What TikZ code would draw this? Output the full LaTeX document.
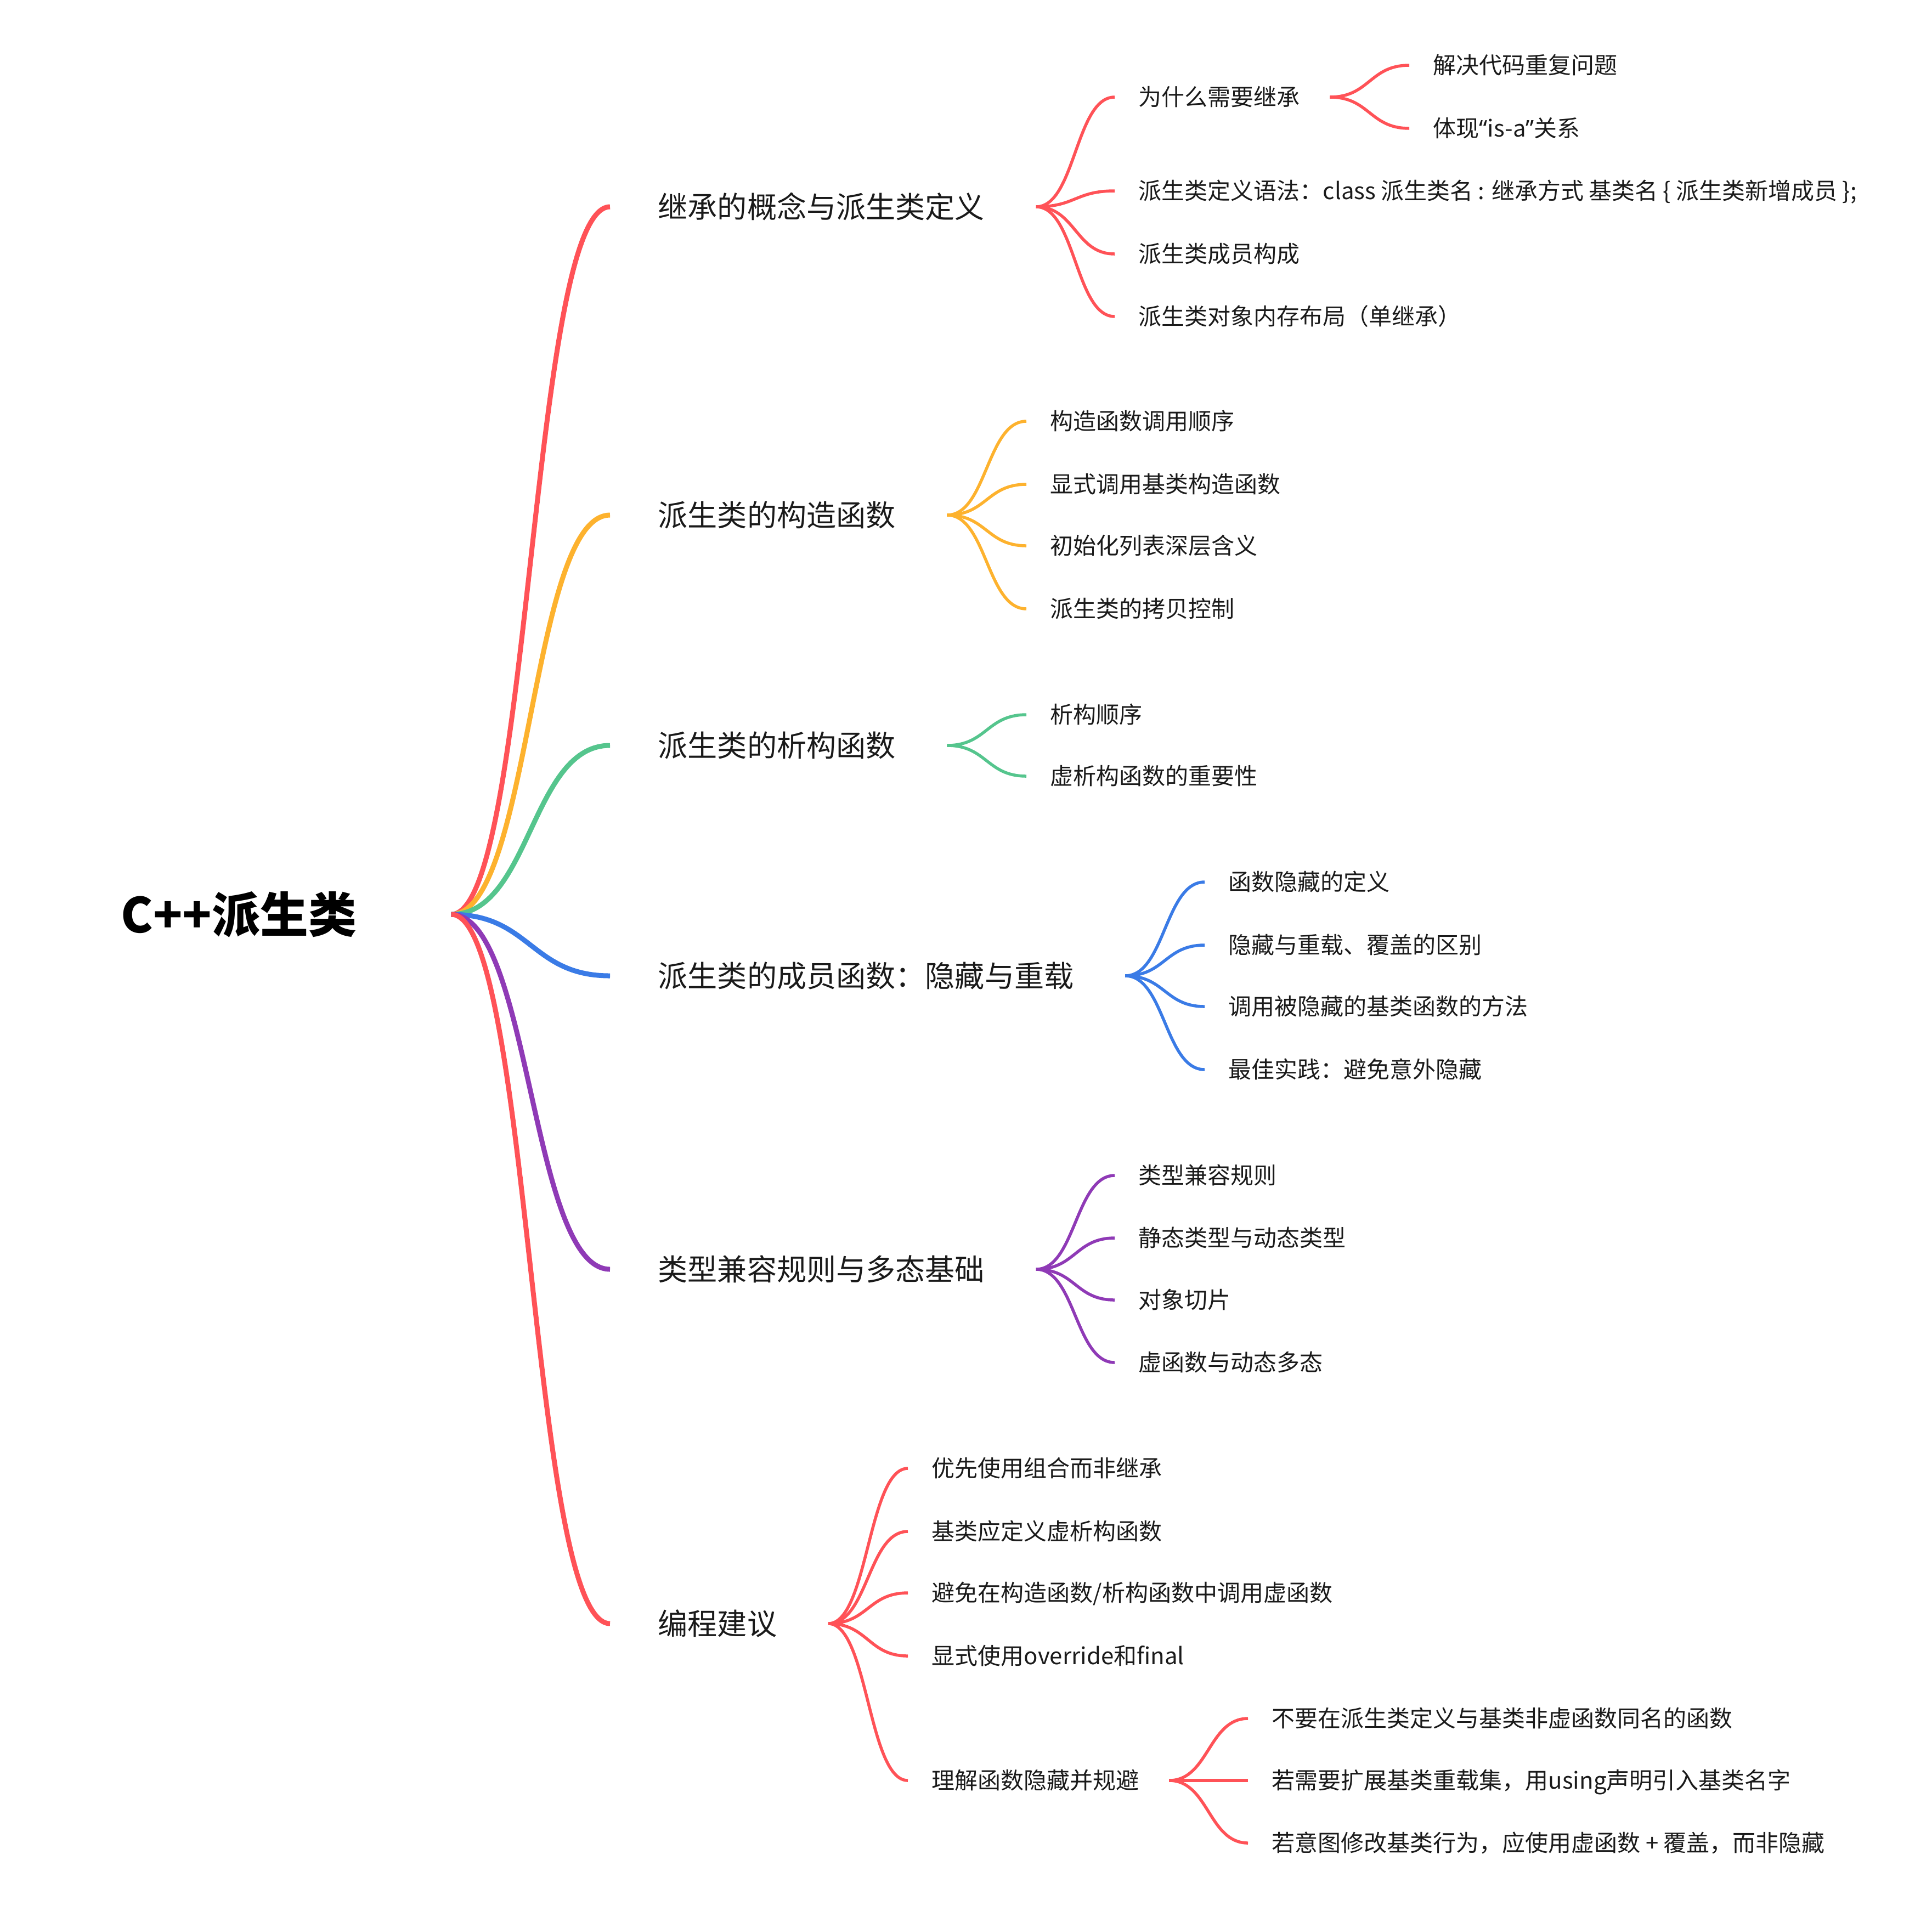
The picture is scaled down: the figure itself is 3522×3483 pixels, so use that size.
\documentclass[tikz,border=0pt]{standalone}
\usepackage{fontspec}
\setmainfont{Noto Sans CJK SC}
\newfontfamily\quotefont{Noto Sans}
\usepackage{tikz}
\usetikzlibrary{positioning, calc}
\definecolor{ink}{HTML}{1a1a1a}
\definecolor{brRed}{HTML}{FF5257}
\definecolor{brOrange}{HTML}{FDB22E}
\definecolor{brGreen}{HTML}{55C58D}
\definecolor{brBlue}{HTML}{3A7BE6}
\definecolor{brPurple}{HTML}{8F3AB6}
% twig: from, to, colour, width, gap after parent, gap before child
\newcommand{\twig}[6]{\draw[#3, line width=#4] let \p1=($(#1.east)+(#5,0)$), \p2=($(#2.west)+(-#6,0)$) in (\p1) .. controls (\x1*0.5+\x2*0.5,\y1) and (\x1*0.5+\x2*0.5,\y2) .. (\p2);}

\begin{document}
\begin{tikzpicture}[x=0.1mm, y=-0.1mm,
  root/.style={anchor=west, inner sep=0pt, text=black, font=\fontsize{25pt}{30pt}\selectfont\bfseries, text height=22pt, text depth=3pt},
  topic/.style={anchor=west, inner sep=0pt, text=ink, font=\fontsize{15.4pt}{18pt}\selectfont, text height=13.55pt, text depth=1.85pt},
  leaf/.style={anchor=west, inner sep=0pt, text=ink, font=\fontsize{11.95pt}{14pt}\selectfont, text height=10.5pt, text depth=1.45pt}]
\useasboundingbox (0,0) rectangle (3522,3483);
\node[root] (cpp) at (220,1667) {C++派生类};
% main branches
\node[topic] (concept) at (1199,377) {继承的概念与派生类定义};
\node[topic] (ctor) at (1199,939) {派生类的构造函数};
\node[topic] (dtor) at (1199,1359) {派生类的析构函数};
\node[topic] (member) at (1199,1779) {派生类的成员函数：隐藏与重载};
\node[topic] (compat) at (1199,2314) {类型兼容规则与多态基础};
\node[topic] (advice) at (1199,2960) {编程建议};
% concept
\node[leaf] (why) at (2075,177) {为什么需要继承};
\node[leaf] (dup) at (2612,119) {解决代码重复问题};
\node[leaf] (isa) at (2612,234) {体现{\quotefont “}is-a{\quotefont ”}关系};
\node[leaf] (syntax) at (2075,348) {派生类定义语法：class 派生类名 : 继承方式 基类名 \{ 派生类新增成员 \};};
\node[leaf] (parts) at (2075,463) {派生类成员构成};
\node[leaf] (layout) at (2075,577) {派生类对象内存布局（单继承）};
% ctor
\node[leaf] (order) at (1914,768) {构造函数调用顺序};
\node[leaf] (callbase) at (1914,883) {显式调用基类构造函数};
\node[leaf] (initlist) at (1914,995) {初始化列表深层含义};
\node[leaf] (copyctl) at (1914,1110) {派生类的拷贝控制};
% dtor
\node[leaf] (dorder) at (1914,1303) {析构顺序};
\node[leaf] (vdtor) at (1914,1415) {虚析构函数的重要性};
% member
\node[leaf] (hidedef) at (2239,1608) {函数隐藏的定义};
\node[leaf] (hidediff) at (2239,1723) {隐藏与重载、覆盖的区别};
\node[leaf] (callhid) at (2239,1835) {调用被隐藏的基类函数的方法};
\node[leaf] (best) at (2239,1950) {最佳实践：避免意外隐藏};
% compat
\node[leaf] (rule) at (2075,2143) {类型兼容规则};
\node[leaf] (stdyn) at (2075,2257) {静态类型与动态类型};
\node[leaf] (slice) at (2075,2370) {对象切片};
\node[leaf] (virt) at (2075,2484) {虚函数与动态多态};
% advice
\node[leaf] (compose) at (1698,2677) {优先使用组合而非继承};
\node[leaf] (basevd) at (1698,2792) {基类应定义虚析构函数};
\node[leaf] (novcall) at (1698,2904) {避免在构造函数/析构函数中调用虚函数};
\node[leaf] (ovfin) at (1698,3019) {显式使用override和final};
\node[leaf] (avoid) at (1698,3246) {理解函数隐藏并规避};
\node[leaf] (same) at (2318,3133) {不要在派生类定义与基类非虚函数同名的函数};
\node[leaf] (using) at (2318,3246) {若需要扩展基类重载集，用using声明引入基类名字};
\node[leaf] (intent) at (2318,3360) {若意图修改基类行为，应使用虚函数 + 覆盖，而非隐藏};
% connectors
\twig{cpp}{concept}{brRed}{0.9mm}{172}{87}
\twig{cpp}{ctor}{brOrange}{0.9mm}{172}{87}
\twig{cpp}{dtor}{brGreen}{0.9mm}{172}{87}
\twig{cpp}{member}{brBlue}{0.9mm}{172}{87}
\twig{cpp}{compat}{brPurple}{0.9mm}{172}{87}
\twig{cpp}{advice}{brRed}{0.9mm}{172}{87}
\foreach \k in {why,syntax,parts,layout} {\twig{concept}{\k}{brRed}{0.55mm}{93}{43}}
\foreach \k in {dup,isa} {\twig{why}{\k}{brRed}{0.55mm}{54}{43}}
\foreach \k in {order,callbase,initlist,copyctl} {\twig{ctor}{\k}{brOrange}{0.55mm}{93}{43}}
\foreach \k in {dorder,vdtor} {\twig{dtor}{\k}{brGreen}{0.55mm}{93}{43}}
\foreach \k in {hidedef,hidediff,callhid,best} {\twig{member}{\k}{brBlue}{0.55mm}{93}{43}}
\foreach \k in {rule,stdyn,slice,virt} {\twig{compat}{\k}{brPurple}{0.55mm}{93}{43}}
\foreach \k in {compose,basevd,novcall,ovfin,avoid} {\twig{advice}{\k}{brRed}{0.55mm}{93}{43}}
\foreach \k in {same,using,intent} {\twig{avoid}{\k}{brRed}{0.55mm}{54}{43}}
\end{tikzpicture}
\end{document}
